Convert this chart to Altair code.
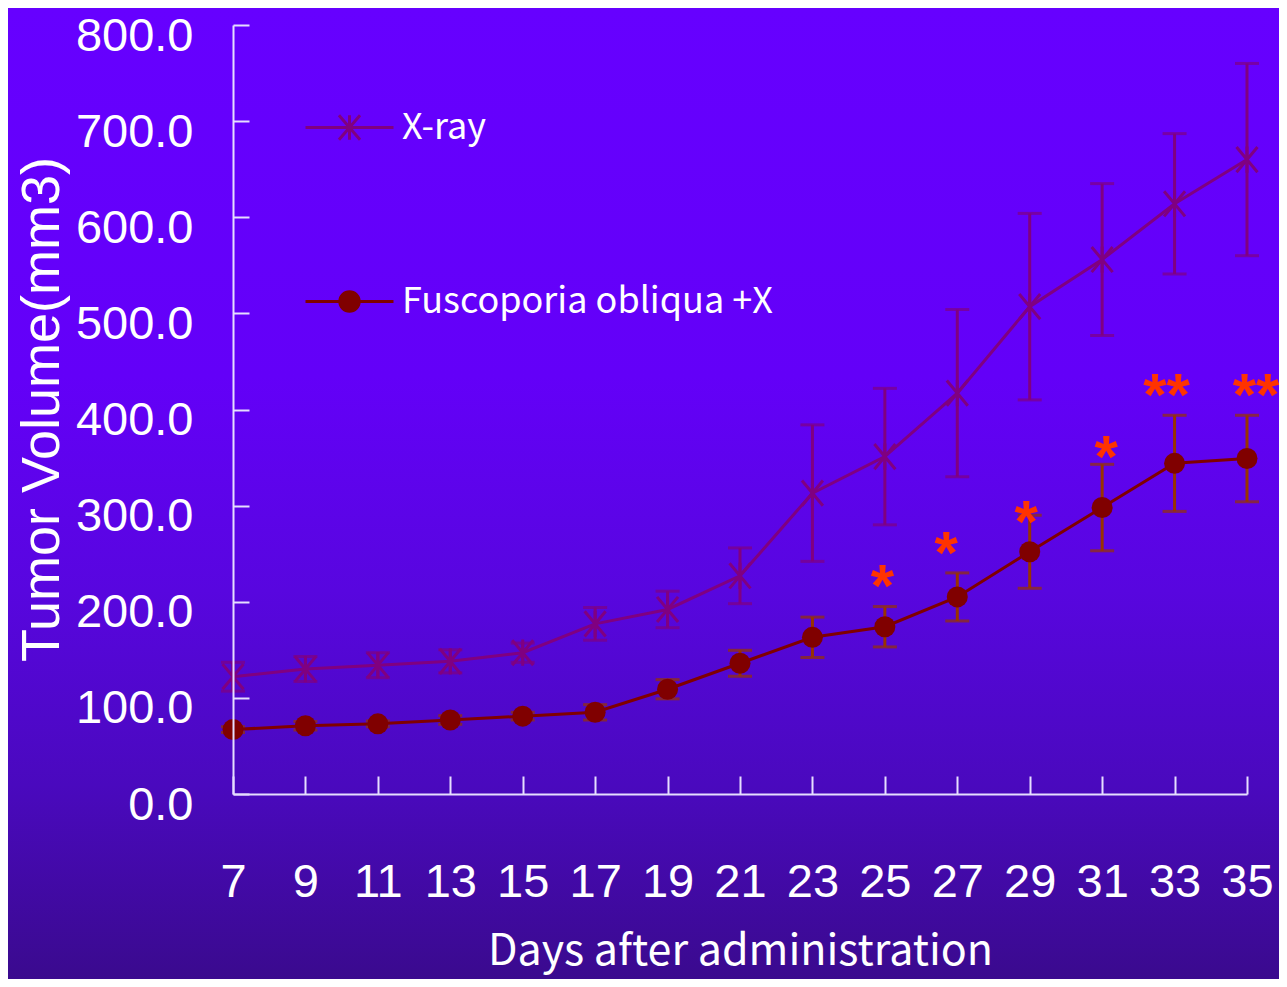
import altair as alt
import pandas as pd

# ---------------- data ----------------
days = [7, 9, 11, 13, 15, 17, 19, 21, 23, 25, 27, 29, 31, 33, 35]
series_names = ["X-ray", "Fuscoporia obliqua +X"]
xray_mean = [122, 130, 134, 138, 147, 177, 192, 227, 313, 351, 417, 507, 556, 614, 660]
xray_err = [15, 13, 13, 12, 10, 17, 19, 29, 71, 71, 87, 97, 79, 73, 100]
fusc_mean = [67, 71, 73, 77, 81, 85, 109, 136, 163, 174, 205, 252, 298, 344, 349]
fusc_err = [3, 4.5, 3, 4.5, 4, 8, 10, 13.5, 21, 21, 25, 38, 45, 50, 45]
y_ticks = [0, 100, 200, 300, 400, 500, 600, 700, 800]
star_days = [24.93, 26.69, 28.90, 31.11, 32.78, 35.25]
star_values = [231, 265, 298, 365, 430, 430]
star_labels = ["*", "*", "*", "*", "**", "**"]

# ---------------- styles ----------------
LABEL_FONT = "Liberation Sans, Arial, sans-serif"
GOTHIC = "Noto Sans CJK JP, Noto Sans, sans-serif"
XRAY_C = "#800080"
FUSC_C = "#800000"
FUSC_ERR_C = "#993300"
STAR_C = "#FF3300"
AXIS_C = "#E6DEFF"

ASTER = "M-1,-1.2L1,1.2M-1,1.2L1,-1.2M0,-1.25L0,1.25"
LEG_X = "M-1,0L1,0M-0.24,-0.28L0.24,0.28M-0.24,0.28L0.24,-0.28M0,-0.28L0,0.28"
LEG_F = "M-1,0L1,0M-0.22,0A0.22,0.22 0 1,0 0.22,0A0.22,0.22 0 1,0 -0.22,0Z"

rows = []
for s, means, errs in [(series_names[0], xray_mean, xray_err),
                       (series_names[1], fusc_mean, fusc_err)]:
    for d, m, e in zip(days, means, errs):
        rows.append({"series": s, "day": d, "mean": m, "lo": m - e, "hi": m + e})
df = pd.DataFrame(rows)
stars = pd.DataFrame({"sx": star_days, "sy": star_values, "lab": star_labels})

W, H = 1014, 769
PAD = {"left": 225, "top": 17, "right": 32, "bottom": 185}

x_scale = alt.Scale(domain=[7, 35], nice=False, zero=False)
y_scale = alt.Scale(domain=[0, 800], nice=False, zero=True)

x_axis = alt.Axis(
    values=days, format="d", title="Days after administration",
    labelFont=LABEL_FONT, labelFontSize=47, labelColor="white",
    labelBaseline="alphabetic", labelPadding=102, labelFlush=False, labelOverlap=False,
    ticks=False, tickSize=0, domainColor=AXIS_C, domainWidth=2,
    grid=True, gridColor=AXIS_C, gridWidth=2, gridDash=[0, H - 18, 18, 4000],
    titleFont=GOTHIC, titleFontSize=43, titleFontWeight="normal", titleColor="white",
    titleBaseline="alphabetic", titleY=170, zindex=1,
)
y_axis = alt.Axis(
    values=y_ticks, format=".1f", title="Tumor Volume(mm3)",
    labelFont=LABEL_FONT, labelFontSize=47, labelColor="white",
    labelBaseline="alphabetic", labelOffset=25, labelPadding=40, labelFlush=False,
    labelOverlap=False, ticks=False, tickSize=0, domainColor=AXIS_C, domainWidth=2,
    grid=True, gridColor=AXIS_C, gridWidth=2, gridDash=[16, 4000],
    titleFont=LABEL_FONT, titleFontSize=54, titleFontWeight="normal", titleColor="white",
    titleBaseline="alphabetic", titleAlign="center", titleX=-175, titleY=384, zindex=1,
)

def X(field="day"):
    return alt.X(f"{field}:Q", scale=x_scale, axis=x_axis)

def Y(field):
    return alt.Y(f"{field}:Q", scale=y_scale, axis=y_axis)

gradient = alt.LinearGradient(
    gradient="linear",
    stops=[
        alt.GradientStop(color="#6600FF", offset=0),
        alt.GradientStop(color="#6300F8", offset=0.38),
        alt.GradientStop(color="#5806DF", offset=0.6),
        alt.GradientStop(color="#4A09BE", offset=0.8),
        alt.GradientStop(color="#3A0A8E", offset=1),
    ],
    x1=0, x2=0, y1=0, y2=1,
)

bg = alt.Chart(alt.Data(values=[{"k": 1}])).mark_rect(color=gradient).encode(
    x=alt.value(-PAD["left"]), x2=alt.value(W + PAD["right"]),
    y=alt.value(-PAD["top"]), y2=alt.value(H + PAD["bottom"]),
)

base = alt.Chart(df)

def series_layers(name, line_c, err_c, marker):
    d = base.transform_filter(alt.datum.series == name)
    rule = d.mark_rule(color=err_c, strokeWidth=3).encode(x=X(), y=Y("lo"), y2="hi:Q")
    caps = d.transform_fold(["lo", "hi"], as_=["bound", "val"]).mark_tick(
        orient="horizontal", size=24, thickness=3, color=err_c
    ).encode(x=X(), y=Y("val"))
    line = d.mark_line(color=line_c, strokeWidth=3).encode(x=X(), y=Y("mean"))
    pts = d.mark_point(**marker).encode(x=X(), y=Y("mean"))
    return [rule, caps, line], pts

legend = alt.Legend(
    orient="none", legendX=71, legendY=57, title=None, padding=0,
    labelFont=GOTHIC, labelFontSize=36, labelColor="white",
    labelOffset=7, labelLimit=600, rowPadding=110,
    symbolSize=7744, symbolStrokeWidth=3, symbolOpacity=1,
)

# legend-only layer (no rows drawn; the legend is built from the scale domains)
legend_layer = base.transform_filter("false").mark_point(strokeWidth=3, opacity=1).encode(
    x=X(), y=Y("mean"),
    shape=alt.Shape("series:N", scale=alt.Scale(domain=series_names, range=[LEG_X, LEG_F]), legend=legend),
    fill=alt.Fill("series:N", scale=alt.Scale(domain=series_names, range=["transparent", FUSC_C]), legend=legend),
    stroke=alt.Stroke("series:N", scale=alt.Scale(domain=series_names, range=[XRAY_C, FUSC_C]), legend=legend),
)

xr_lines, xr_pts = series_layers(
    series_names[0], XRAY_C, XRAY_C,
    dict(shape=ASTER, size=441, stroke=XRAY_C, strokeWidth=3, fill="transparent", opacity=1, filled=False),
)
fu_lines, fu_pts = series_layers(
    series_names[1], FUSC_C, FUSC_ERR_C,
    dict(shape="circle", size=441, color=FUSC_C, filled=True, opacity=1, strokeWidth=0),
)

star_layer = alt.Chart(stars).mark_text(
    font="Liberation Sans, Arial, sans-serif", fontSize=60, fontWeight="bold",
    color=STAR_C, baseline="middle", align="center", dy=16,
).encode(x=X("sx"), y=Y("sy"), text="lab:N")

layers = [bg] + xr_lines + fu_lines + [xr_pts, fu_pts, star_layer, legend_layer]

chart = alt.layer(*layers).properties(
    width=W, height=H, padding=PAD,
    autosize=alt.AutoSizeParams(type="none"),
    background="#6600FF",
).configure_view(stroke=None)

chart.save("out.html", embed_options={"renderer": "svg", "actions": False})
